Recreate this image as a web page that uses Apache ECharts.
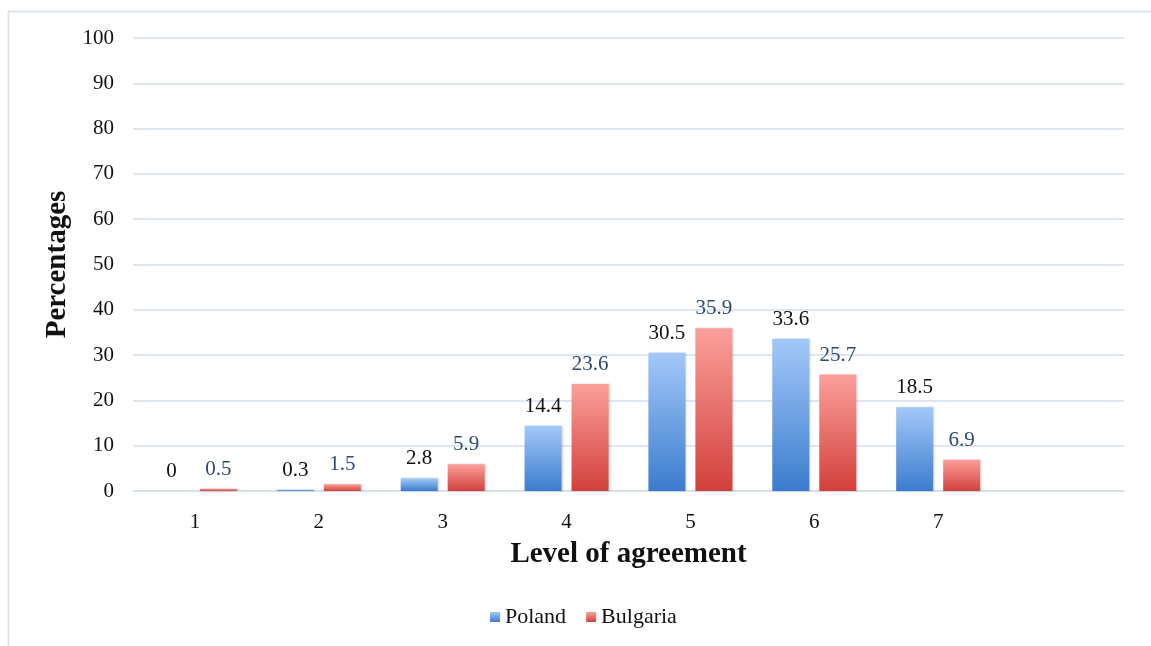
<!DOCTYPE html>
<html>
<head>
<meta charset="utf-8">
<script src="https://cdn.jsdelivr.net/npm/echarts@6/dist/echarts.min.js"></script>
<style>
  html, body { margin: 0; padding: 0; background: #ffffff; }
  #chart { width: 1151px; height: 646px; }
</style>
</head>
<body>
<div id="chart"></div>
<script>
// Level-of-agreement categories (trailing empty slot keeps the spacing of the 8-slot axis)
const categories = ['1', '2', '3', '4', '5', '6', '7', ''];
const poland = [0, 0.3, 2.8, 14.4, 30.5, 33.6, 18.5, null];
const bulgaria = [0.5, 1.5, 5.9, 23.6, 35.9, 25.7, 6.9, null];
const yTicks = { min: 0, max: 100, interval: 10 };

const serif = '"Liberation Serif", "Times New Roman", serif';

function grad(top, bottom) {
  return new echarts.graphic.LinearGradient(0, 0, 0, 1, [
    { offset: 0, color: top },
    { offset: 1, color: bottom }
  ]);
}

const chart = echarts.init(document.getElementById('chart'), null, { renderer: 'canvas' });

chart.setOption({
  backgroundColor: '#ffffff',
  animation: false,
  graphic: [
    { type: 'line', shape: { x1: 8, y1: 11.5, x2: 1151, y2: 11.5 }, style: { stroke: '#dde4ee', lineWidth: 2 }, silent: true },
    { type: 'line', shape: { x1: 8.5, y1: 11, x2: 8.5, y2: 646 }, style: { stroke: '#dde4ee', lineWidth: 2 }, silent: true }
  ],
  grid: { left: 133, right: 27, top: 38, bottom: 155 },
  legend: {
    bottom: 13,
    left: 485,
    itemWidth: 10,
    itemHeight: 10,
    itemGap: 20,
    icon: 'rect',
    textStyle: { fontFamily: serif, fontSize: 22, color: '#111' },
    data: ['Poland', 'Bulgaria']
  },
  xAxis: {
    type: 'category',
    data: categories,
    name: 'Level of agreement',
    nameLocation: 'middle',
    nameGap: 49,
    nameTextStyle: { fontFamily: serif, fontSize: 29, fontWeight: 'bold', color: '#111' },
    axisLine: { lineStyle: { color: '#d5deec', width: 1.5 } },
    axisTick: { show: false },
    axisLabel: { fontFamily: serif, fontSize: 21, color: '#111', margin: 21 }
  },
  yAxis: {
    type: 'value',
    min: yTicks.min,
    max: yTicks.max,
    interval: yTicks.interval,
    name: 'Percentages',
    nameLocation: 'middle',
    nameGap: 60,
    nameRotate: 90,
    nameTextStyle: { fontFamily: serif, fontSize: 29, fontWeight: 'bold', color: '#111' },
    axisLine: { show: false },
    axisTick: { show: false },
    axisLabel: { fontFamily: serif, fontSize: 21, color: '#111', margin: 19 },
    splitLine: { lineStyle: { color: '#d5deec', width: 1.5 } }
  },
  series: [
    {
      name: 'Poland',
      type: 'bar',
      data: poland,
      barWidth: 37,
      barGap: '27%',
      itemStyle: {
        color: grad('#a3c8f8', '#3b7cce'),
        shadowBlur: 2,
        shadowColor: 'rgba(0,0,0,0.18)',
        shadowOffsetX: 1
      },
      label: {
        show: true,
        position: 'top',
        distance: 9,
        fontFamily: serif,
        fontSize: 21,
        color: '#111'
      }
    },
    {
      name: 'Bulgaria',
      type: 'bar',
      data: bulgaria,
      barWidth: 37,
      itemStyle: {
        color: grad('#fb9f9b', '#d3403b'),
        shadowBlur: 2,
        shadowColor: 'rgba(0,0,0,0.18)',
        shadowOffsetX: 1
      },
      label: {
        show: true,
        position: 'top',
        distance: 9,
        fontFamily: serif,
        fontSize: 21,
        color: '#2c4a74'
      }
    }
  ]
});
</script>
</body>
</html>
